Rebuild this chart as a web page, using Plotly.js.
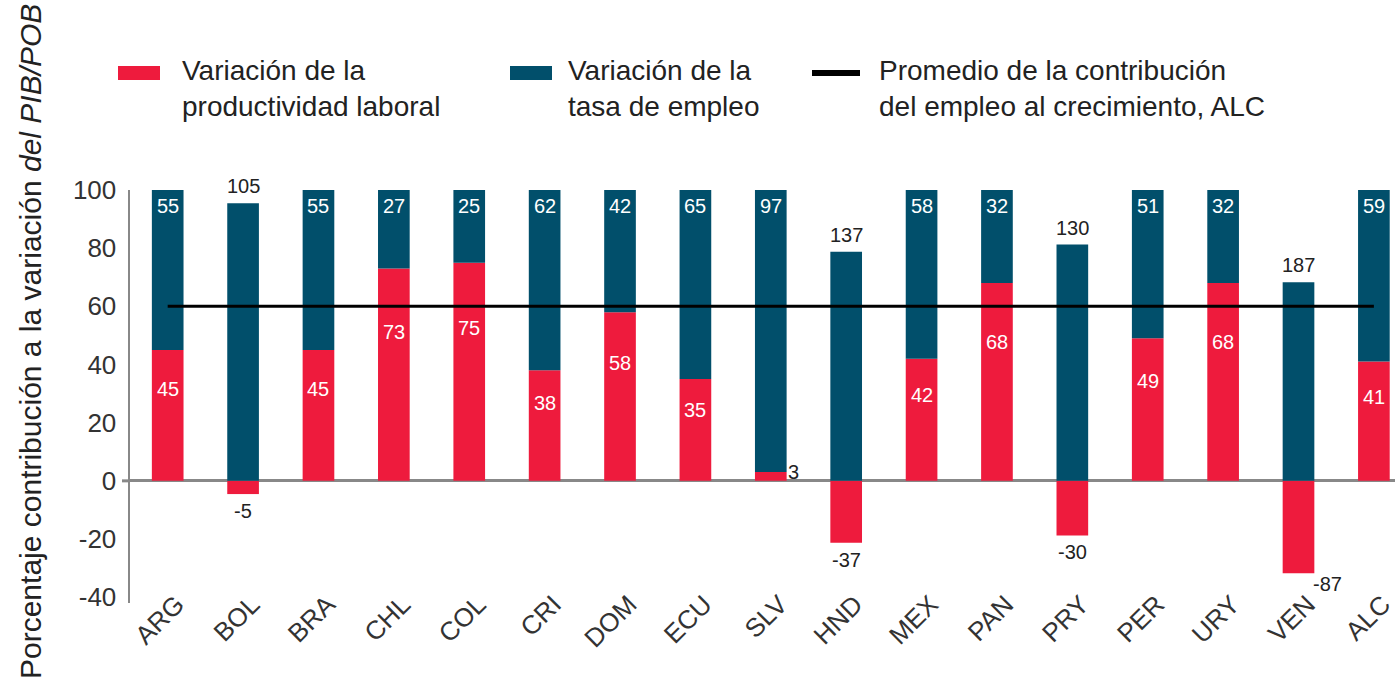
<!DOCTYPE html>
<html>
<head>
<meta charset="utf-8">
<script src="https://cdn.plot.ly/plotly-3.0.1.min.js"></script>
<style>html,body{margin:0;padding:0;background:#fff;}#chart{width:1396px;height:683px;}</style>
</head>
<body>
<div id="chart"></div>
<script>
// ---- data ----
const countries = ['ARG','BOL','BRA','CHL','COL','CRI','DOM','ECU','SLV','HND','MEX','PAN','PRY','PER','URY','VEN','ALC'];
const productividad = [45,-5,45,73,75,38,58,35,3,-37,42,68,-30,49,68,-87,41];
const empleo = [55,105,55,27,25,62,42,65,97,137,58,32,130,51,32,187,59];
const promedioEmpleo = 60;
const yTickVals = [-40,-20,0,20,40,60,80,100];
const yTickText = ['-40','-20','0','20','40','60','80','100'];

const RED = '#EE1B3D';
const BLUE = '#014F6B';
const FONT = 'Liberation Sans, Arial, sans-serif';

// shares of the absolute total (bars are normalised to 100)
const tot = productividad.map((p,i)=>Math.abs(p)+Math.abs(empleo[i]));
const prodShare = productividad.map((p,i)=>p/tot[i]*100);
const empShare = empleo.map((e,i)=>e/tot[i]*100);

// geometry helpers (pixel -> paper) for legend/title
const L=130, R=1, T=190, B=80, W=1396, H=683;
const pw = W-L-R, ph = H-T-B;
const px = x => (x-L)/pw;
const py = y => (H-B-y)/ph;

const traces = [
  {type:'bar', name:'Variación de la productividad laboral', x:countries, y:prodShare,
   marker:{color:RED}, showlegend:false, hoverinfo:'skip'},
  {type:'bar', name:'Variación de la tasa de empleo', x:countries, y:empShare,
   marker:{color:BLUE}, showlegend:false, hoverinfo:'skip'},
  {type:'scatter', mode:'lines', name:'Promedio', x:[countries[0], countries[countries.length-1]],
   y:[promedioEmpleo, promedioEmpleo], line:{color:'#000', width:3}, showlegend:false, hoverinfo:'skip'}
];

const ann = [];
countries.forEach((c,i)=>{
  const p = productividad[i], e = empleo[i];
  // employment label
  if (p >= 0) {
    ann.push({x:c, y:empShare[i]+prodShare[i], xref:'x', yref:'y', text:String(e), showarrow:false,
      yanchor:'top', yshift:-3, font:{family:FONT, size:20, color:'#fff'}});
  } else {
    ann.push({x:c, y:empShare[i], xref:'x', yref:'y', text:String(e), showarrow:false,
      yanchor:'bottom', yshift:4, font:{family:FONT, size:20, color:'#222'}});
  }
  // productivity label
  if (p >= 10) {
    ann.push({x:c, y:prodShare[i]*0.7, xref:'x', yref:'y', text:String(p), showarrow:false,
      yanchor:'middle', font:{family:FONT, size:20, color:'#fff'}});
  } else if (p >= 0) {
    ann.push({x:c, y:prodShare[i], xref:'x', yref:'y', text:String(p), showarrow:false,
      xanchor:'left', xshift:15, yanchor:'middle', font:{family:FONT, size:20, color:'#222'}});
  } else if (p < -50) {
    ann.push({x:c, y:prodShare[i], xref:'x', yref:'y', text:String(p), showarrow:false,
      xanchor:'left', xshift:12, yanchor:'top', yshift:2, font:{family:FONT, size:20, color:'#222'}});
  } else {
    ann.push({x:c, y:prodShare[i], xref:'x', yref:'y', text:String(p), showarrow:false,
      yanchor:'top', yshift:-4, font:{family:FONT, size:20, color:'#222'}});
  }
});

// y axis title
ann.push({xref:'paper', yref:'paper', x:px(30), y:py(342), xanchor:'center', yanchor:'middle',
  textangle:-90, showarrow:false,
  text:'Porcentaje contribución a la variación <i>del PIB/POB</i>',
  font:{family:FONT, size:30, color:'#222'}});

// legend texts
const legTexts = [
  {x:180, t:'Variación de la<br>productividad laboral'},
  {x:566, t:'Variación de la<br>tasa de empleo'},
  {x:877, t:'Promedio de la contribución<br>del empleo al crecimiento, ALC'}
];
legTexts.forEach(l=>{
  ann.push({xref:'paper', yref:'paper', x:px(l.x), y:py(89), xanchor:'left', yanchor:'middle',
    align:'left', showarrow:false, text:l.t, font:{family:FONT, size:28, color:'#222'}});
});

const shapes = [
  {type:'rect', xref:'paper', yref:'paper', x0:px(118), x1:px(160), y0:py(80), y1:py(66), fillcolor:RED, line:{width:0}},
  {type:'rect', xref:'paper', yref:'paper', x0:px(510), x1:px(552), y0:py(80), y1:py(66), fillcolor:BLUE, line:{width:0}},
  {type:'line', xref:'paper', yref:'paper', x0:px(812), x1:px(860), y0:py(73), y1:py(73), line:{color:'#000', width:6}},
  {type:'line', xref:'paper', yref:'y', x0:px(122), x1:0, y0:0, y1:0, line:{color:'#888', width:3}}
];

const layout = {
  width:W, height:H,
  margin:{l:L, r:R, t:T, b:B, pad:0},
  paper_bgcolor:'#fff', plot_bgcolor:'#fff',
  barmode:'relative', bargap:0.58,
  showlegend:false,
  xaxis:{type:'category', range:[-0.5, 16.28], tickangle:-45, ticklabelshift:9, ticklabelstandoff:-20,
    tickfont:{family:FONT, size:26, color:'#333'}, showgrid:false, showline:false, ticks:'',
    zeroline:false, fixedrange:true},
  yaxis:{range:[-42, 100], tickvals:yTickVals, ticktext:yTickText, showgrid:false,
    showline:true, linecolor:'#888', linewidth:2.5, ticks:'', ticklabelstandoff:6,
    zeroline:true, zerolinecolor:'#888', zerolinewidth:3,
    tickfont:{family:FONT, size:26, color:'#333'}, fixedrange:true},
  annotations:ann, shapes:shapes
};

Plotly.newPlot('chart', traces, layout, {staticPlot:true, displayModeBar:false});
</script>
</body>
</html>
